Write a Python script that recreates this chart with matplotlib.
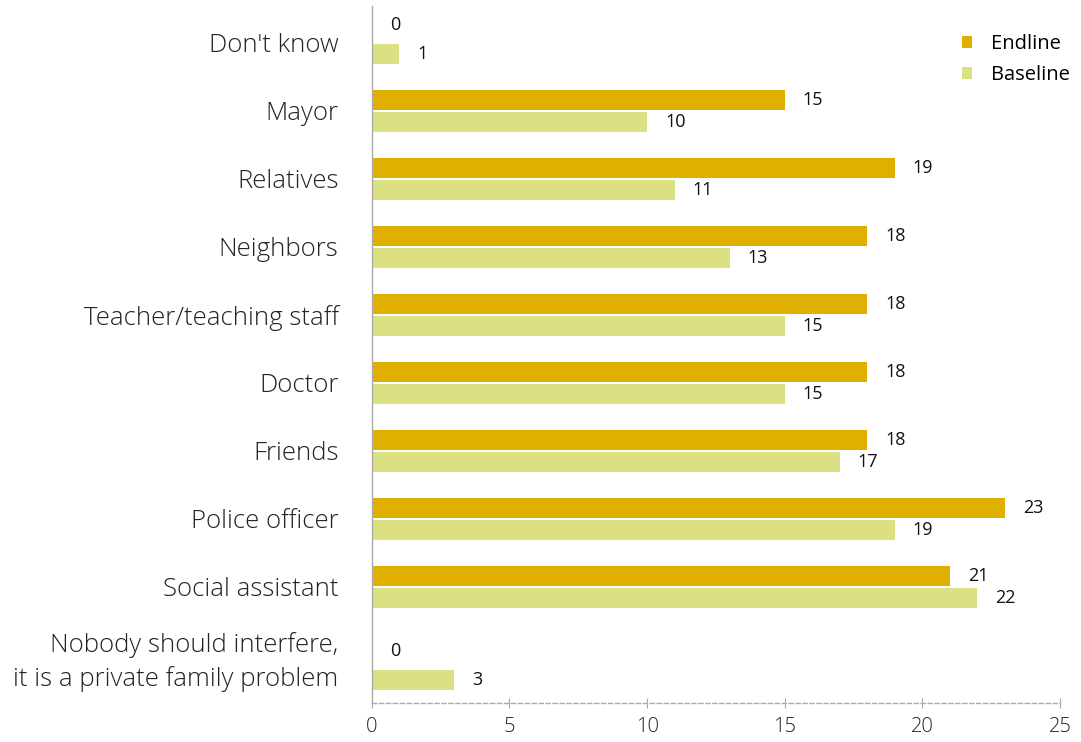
import matplotlib
matplotlib.use("Agg")
import matplotlib.pyplot as plt
import numpy as np

categories = [
    "Don't know",
    "Mayor",
    "Relatives",
    "Neighbors",
    "Teacher/teaching staff",
    "Doctor",
    "Friends",
    "Police officer",
    "Social assistant",
    "Nobody should interfere,\nit is a private family problem",
]
endline = [0, 15, 19, 18, 18, 18, 18, 23, 21, 0]
baseline = [1, 10, 11, 13, 15, 15, 17, 19, 22, 3]
x_ticks = [0, 5, 10, 15, 20, 25]

ENDLINE_COLOR = "#e0b000"
BASELINE_COLOR = "#dbe083"
FONT = "Open Sans"

fig = plt.figure(figsize=(10.81, 7.42), dpi=100)
ax = fig.add_axes([0.344, 0.0531, 0.6366, 0.9394])

ticks = np.arange(len(categories), dtype=float)
# bars of the two-line category sit a bit lower than its label
y = ticks.copy()
y[-1] += 0.2
off, bh = 0.162, 0.294
ax.barh(y - off, endline, height=bh, color=ENDLINE_COLOR, label="Endline")
ax.barh(y + off, baseline, height=bh, color=BASELINE_COLOR, label="Baseline")

for yi, v in zip(y, endline):
    ax.text(v + 0.65, yi - off - (0.1 if v == 0 else 0), str(v), va="center", ha="left",
            fontsize=13, family=FONT, color="#111111")
for yi, v in zip(y, baseline):
    ax.text(v + 0.65, yi + off, str(v), va="center", ha="left",
            fontsize=13, family=FONT, color="#111111")

ax.set_ylim(9.7, -0.55)
ax.set_xlim(0, 25)
ax.set_yticks(ticks)
ax.set_yticklabels(categories, family=FONT, fontweight="light", fontsize=18.5,
                   color="#222222", linespacing=1.4)
ax.set_xticks(x_ticks)
ax.set_xticklabels([str(t) for t in x_ticks], family=FONT, fontweight="light",
                   fontsize=14.5, color="#222222")

ax.tick_params(axis="y", length=0, pad=24)
ax.tick_params(axis="x", length=7, direction="inout", color="#aaaaaa", pad=7)

for s in ["top", "right"]:
    ax.spines[s].set_visible(False)
ax.spines["left"].set_color("#aaaaaa")
ax.spines["left"].set_linewidth(1.0)
ax.spines["bottom"].set_color("#aaaaaa")
ax.spines["bottom"].set_linestyle((0, (3, 2)))
ax.spines["bottom"].set_linewidth(1.0)

ax.legend(loc="upper right", bbox_to_anchor=(1.04, 0.985), frameon=False,
          handlelength=0.5, handleheight=0.5, handletextpad=0.9,
          labelspacing=0.55, prop={"family": FONT, "size": 14.5, "weight": "medium"})

fig.savefig("out.png", dpi=100, facecolor="white")
